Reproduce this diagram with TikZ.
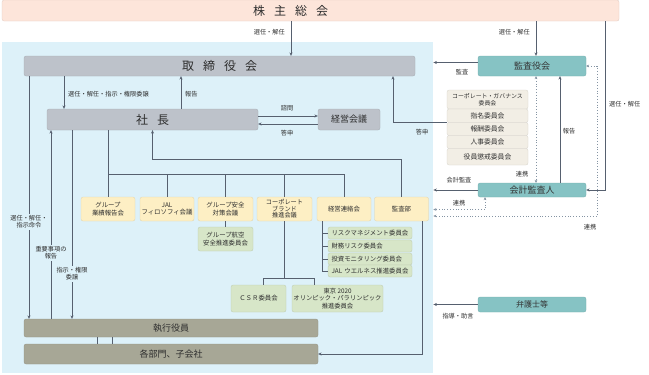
\documentclass[tikz,border=0pt]{standalone}
\usepackage{fontspec}
\setmainfont{Noto Sans CJK JP}
\usepackage{tikz}
\usetikzlibrary{arrows.meta}
\definecolor{peach}{HTML}{FDE5DA}
\definecolor{bgblue}{HTML}{DDF1F9}
\definecolor{bargray}{HTML}{BDC2CA}
\definecolor{teal}{HTML}{86C3C4}
\definecolor{beige}{HTML}{F2EEE5}
\definecolor{yellowbox}{HTML}{FDEFC4}
\definecolor{greenbox}{HTML}{D7E6C8}
\definecolor{olive}{HTML}{A7A796}
\definecolor{linegray}{HTML}{56606F}
\definecolor{dotgray}{HTML}{8594A3}
\definecolor{txtgray}{HTML}{2E2E2E}
\newcommand{\kgap}{\hspace{0.75em}}

\begin{document}
\begin{tikzpicture}[x=1pt,y=-1pt,
    every node/.style={inner sep=0pt, text=txtgray},
    bar/.style={rectangle, rounded corners=2pt, fill=#1, draw=#1!88!black, line width=0.3pt},
    wh/.style 2 args={minimum width=#1pt, minimum height=#2pt},
    big/.style={font=\fontsize{12}{14}\selectfont},
    mid/.style={font=\fontsize{9}{11}\selectfont},
    small/.style={font=\fontsize{6.4}{7.4}\selectfont, align=center},
    tiny/.style={font=\fontsize{6.2}{7}\selectfont, align=center},
    arr/.style={draw=linegray, line width=1pt, -{Stealth[length=3.4pt,width=3pt]}},
    ln/.style={draw=linegray, line width=1pt},
    dots/.style={draw=dotgray, line width=0.8pt, dotted,
      {Stealth[length=3pt,width=2.8pt]}-{Stealth[length=3pt,width=2.8pt]}}]
  \useasboundingbox (0,0) rectangle (649,375);
  % 会社の範囲
  \node[fill=bgblue, wh={431}{331}, anchor=north west] (kaisha) at (2,42) {};
  % 株主総会と取締役会
  \node[bar=peach, wh={617}{21}] (soukai) at (310.5,10.5) {};
  \node[big] (soukaitxt) at (290.5,10.5) {株\kgap 主\kgap 総\kgap 会};
  \node[bar=bargray, wh={391}{20}, big] (torishimari) at (219.5,66) {取\kgap 締\kgap 役\kgap 会};
  \node[bar=teal, wh={108}{20}, mid, text=black!80] (kansayaku) at (532,66) {監査役会};
  \node[bar=bargray, wh={211}{21}, big] (shacho) at (152.5,119.5) {社\kgap 長};
  \node[bar=bargray, wh={62}{21}, mid] (keiei) at (349,119.5) {経営会議};
  % 委員会
  \node[bar=beige, wh={81}{19}, tiny, font=\fontsize{5.9}{6.8}\selectfont] (cg) at (487.5,99.5) {コーポレート・ガバナンス\\委員会};
  \node[bar=beige, wh={81}{13.5}, small, font=\fontsize{6.8}{7.6}\selectfont] (shimei) at (487.5,115.75) {指名委員会};
  \node[bar=beige, wh={81}{13}, small, font=\fontsize{6.8}{7.6}\selectfont] (hoshu) at (487.5,129) {報酬委員会};
  \node[bar=beige, wh={81}{13}, small, font=\fontsize{6.8}{7.6}\selectfont] (jinji) at (487.5,142) {人事委員会};
  \node[bar=beige, wh={81}{16.5}, small, font=\fontsize{6.8}{7.6}\selectfont] (choukai) at (487.5,156.75) {役員懲戒委員会};
  \node[bar=teal, wh={108}{14}, mid, text=black!80] (kaikei) at (532,190) {会計監査人};
  \node[bar=teal, wh={108}{15}, font=\fontsize{8}{10}\selectfont, text=black!80] (bengoshi) at (532,304.5) {弁護士等};
  % 会議体
  \node[bar=yellowbox, wh={54}{24}, small] (gyoseki) at (108,209) {グループ\\業績報告会};
  \node[bar=yellowbox, wh={54}{24}, small] (jal) at (167,209) {JAL\\フィロソフィ会議};
  \node[bar=yellowbox, wh={55}{24}, small] (anzen) at (225.5,209) {グループ安全\\対策会議};
  \node[bar=yellowbox, wh={55}{24}, small, font=\fontsize{6.2}{6.4}\selectfont] (brand) at (284.5,209) {コーポレート\\ブランド\\推進会議};
  \node[bar=yellowbox, wh={54}{24}, small] (renraku) at (344,209) {経営連絡会};
  \node[bar=yellowbox, wh={54}{24}, small] (kansabu) at (401.5,209) {監査部};
  \node[bar=greenbox, wh={55}{24}, small] (koku) at (225.5,239) {グループ航空\\安全推進委員会};
  \node[bar=greenbox, wh={84}{12}, small, text width=77pt, align=left] (risk) at (370,233) {リスクマネジメント委員会};
  \node[bar=greenbox, wh={84}{12}, small, text width=77pt, align=left] (zaimu) at (370,246) {財務リスク委員会};
  \node[bar=greenbox, wh={84}{12}, small, text width=77pt, align=left] (toshi) at (370,259) {投資モニタリング委員会};
  \node[bar=greenbox, wh={84}{12}, small, text width=77pt, align=left] (wellness) at (370,271) {JAL ウエルネス推進委員会};
  \node[bar=greenbox, wh={55}{27}, small] (csr) at (258.5,298.5) {ＣＳＲ委員会};
  \node[bar=greenbox, wh={91}{27}, small, font=\fontsize{6.3}{7.2}\selectfont] (tokyo) at (337.5,298.5) {東京 2020\\オリンピック・パラリンピック\\推進委員会};
  % 執行
  \node[bar=olive, wh={294}{18}, mid] (shikko) at (171,328) {執行役員};
  \node[bar=olive, wh={294}{20}, mid] (kakubumon) at (171,354) {各部門、子会社};

  % 株主総会から
  \draw[arr] (soukai.south -| 291,0) -- (torishimari.north -| 291,0);
  \node[tiny, anchor=east] (l-sennin1) at (285,32.5) {選任・解任};
  \draw[arr] (soukai.south -| 536,0) -- (kansayaku.north -| 536,0);
  \node[tiny, anchor=east] (l-sennin2) at (530,32.5) {選任・解任};
  \draw[arr] (soukai.south -| 605,0) |- (kaikei.east);
  \node[tiny, anchor=west] (l-sennin3) at (609,104) {選任・解任};
  % 監査役会まわり
  \draw[arr] (kansayaku.west |- 0,62.5) -- (kaisha.east |- 0,62.5);
  \node[tiny] (l-kansa) at (462,72) {監査};
  \draw[arr] (shimei.south west) -| (torishimari.south -| 393,0);
  \node[tiny] (l-toshin2) at (422,132) {答申};
  \draw[dots] (kansayaku.south -| 536,0) -- (kaikei.north -| 536,0);
  \node[tiny] (l-renkei1) at (522,174) {連携};
  \draw[arr] (kaikei.north -| 560,0) -- (kansayaku.south -| 560,0);
  \node[tiny] (l-hokoku2) at (569,131.5) {報告};
  \draw[arr] (kaikei.west) -- (kaisha.east |- kaikei.west);
  \node[tiny] (l-kaikei) at (459,180) {会計監査};
  \draw[dots] (kaikei.south -| 485,0) |- (kaisha.east |- 0,209.5);
  \node[tiny] (l-renkei2) at (459,203) {連携};
  \draw[dots] (kansayaku.east) -| (597,216) -- (kaisha.east |- 0,216);
  \node[tiny] (l-renkei3) at (590,227) {連携};
  \draw[arr] (bengoshi.west) -- (kaisha.east |- bengoshi.west);
  \node[tiny] (l-shido) at (458,316) {指導・助言};
  % 取締役会と社長
  \draw[arr] (torishimari.south -| 64,0) -- (shacho.north -| 64,0);
  \node[tiny, anchor=west] (l-sennin4) at (68,94) {選任・解任・指示・権限委譲};
  \draw[arr] (shacho.north -| 181,0) -- (torishimari.south -| 181,0);
  \node[tiny, anchor=west] (l-hokoku1) at (185,94) {報告};
  \draw[arr] (shacho.east |- 0,116) -- (keiei.west |- 0,116);
  \node[tiny] (l-shimon) at (287,108) {諮問};
  \draw[arr] (keiei.west |- 0,124) -- (shacho.east |- 0,124);
  \node[tiny] (l-toshin1) at (287,133.5) {答申};
  % 執行役員へ
  \draw[arr] (torishimari.south -| 29,0) -- (shikko.north -| 29,0);
  \node[tiny, fill=bgblue, inner sep=1.5pt] (l-meirei) at (29,222) {選任・解任・\\指示命令};
  \draw[arr] (shikko.north -| 51,0) -- (shacho.south -| 51,0);
  \node[tiny, fill=bgblue, inner sep=1.5pt] (l-juyo) at (51,253) {重要事項の\\報告};
  \draw[arr] (shacho.south -| 72,0) -- (shikko.north -| 72,0);
  \node[tiny, fill=bgblue, inner sep=1.5pt] (l-ijo) at (72,274) {指示・権限\\委譲};
  \draw[ln] (shikko.south -| 97,0) -- (kakubumon.north -| 97,0);
  \draw[ln] (shikko.south -| 112,0) -- (kakubumon.north -| 112,0);
  % 会議体の枝
  \coordinate (bunki) at (108,174);
  \draw[ln] (shacho.south -| gyoseki) -- (gyoseki.north);
  \draw[ln] (bunki) -- (renraku.north |- bunki) -- (renraku.north);
  \draw[ln] (jal.north |- bunki) -- (jal.north);
  \draw[ln] (anzen.north |- bunki) -- (anzen.north);
  \draw[ln] (brand.north |- bunki) -- (brand.north);
  \draw[arr] (kansabu.north) |- (shacho.south |- 0,159) -- (shacho.south);
  \draw[arr] (kansabu.south -| 422,0) |- (kakubumon.east);
  \draw[ln] (anzen.south) -- (koku.north);
  \draw[ln] (renraku.south -| 322,0) |- (wellness.west);
  \draw[ln] (risk.west -| 322,0) -- (risk.west);
  \draw[ln] (zaimu.west -| 322,0) -- (zaimu.west);
  \draw[ln] (toshi.west -| 322,0) -- (toshi.west);
  \draw[ln] (brand.south) -- (brand.south |- 0,278);
  \coordinate (edaL) at (263,278);
  \coordinate (edaR) at (314,278);
  \draw[ln] (csr.north -| edaL) -- (edaL) -- (edaR) -- (tokyo.north -| edaR);
\end{tikzpicture}
\end{document}
